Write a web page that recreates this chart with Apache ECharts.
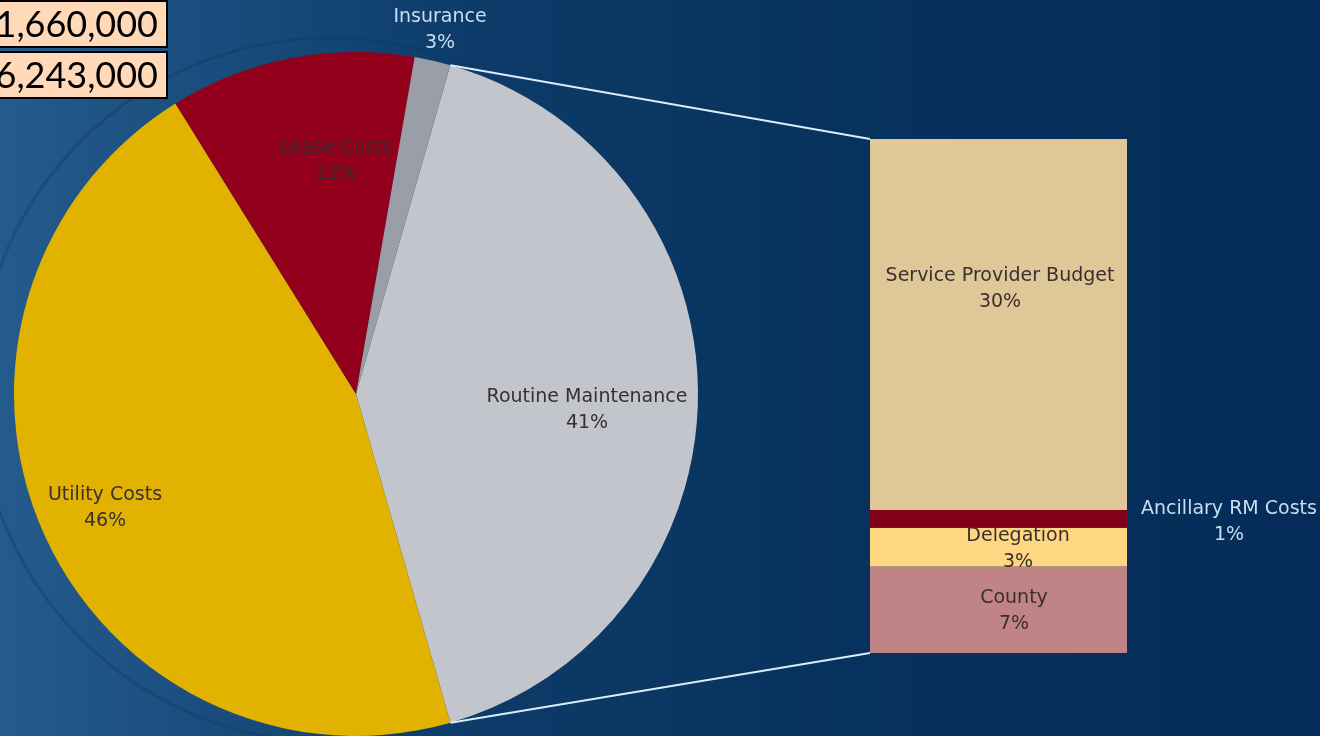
<!DOCTYPE html>
<html>
<head>
<meta charset="utf-8">
<script src="https://cdn.jsdelivr.net/npm/echarts@6/dist/echarts.min.js"></script>
<style>
  html, body { margin: 0; padding: 0; }
  #main { width: 1320px; height: 736px; }
</style>
</head>
<body>
<div id="main"></div>
<script>
// pie slices (clockwise from the Routine Maintenance edge)
var pieNames = ['Routine Maintenance', 'Utility Costs', 'Lease Costs', 'Insurance'];
var pieValues = [41.1, 45.6, 11.6, 1.7];
var pieLabels = ['41%', '46%', '12%', '3%'];

// breakdown of Routine Maintenance (bottom to top)
var barNames = ['County', 'Delegation', 'Ancillary RM Costs', 'Service Provider Budget'];
var barValues = [6.9, 3.1, 1.4, 29.6];
var barLabels = ['7%', '3%', '1%', '30%'];

// totals boxes top-left
var totals = ['1,660,000', '6,243,000'];

var pieColors = ['#c3c5cd', '#e1b300', '#93001c', '#9a9ea6'];
var barColors = ['#c08487', '#ffd782', '#820018', '#e0c797'];
// label centres (layout only)
var pieLabelPos = [[587, 410], [105, 508], [336, 161], [440, 30]];
var barLabelPos = [[1014, 611], [1018, 549], [1229, 522], [1000, 289]];

var FONT = 'DejaVu Sans';
var FS = 19;
var PIE_CENTER = [356, 394];
var PIE_R = 342;
var START = 74;
var GRID = { left: 870, top: 139, width: 257, height: 514 };

var chart = echarts.init(document.getElementById('main'));

var barTotal = barValues.reduce(function (a, b) { return a + b; }, 0);

var barSeries = barNames.map(function (name, i) {
  return {
    name: name,
    type: 'bar',
    stack: 'rm',
    barWidth: '100%',
    silent: true,
    itemStyle: { color: barColors[i] },
    label: {
      show: true,
      formatter: name + '\n' + barLabels[i],
      fontFamily: FONT,
      fontSize: FS,
      lineHeight: 26,
      color: i === 2 ? '#c9def0' : '#3a2f30',
    },
    labelLayout: function () {
      return { x: barLabelPos[i][0], y: barLabelPos[i][1], align: 'center', verticalAlign: 'middle' };
    },
    data: [barValues[i]],
  };
});

var option = {
  animation: false,
  backgroundColor: new echarts.graphic.LinearGradient(0, 0, 1, 0, [
    { offset: 0, color: '#245b8d' },
    { offset: 0.35, color: '#0d3c6a' },
    { offset: 0.6, color: '#08335e' },
    { offset: 1, color: '#052c58' }
  ]),
  grid: GRID,
  xAxis: { type: 'category', data: ['rm'], show: false },
  yAxis: { type: 'value', min: 0, max: barTotal, show: false },
  series: [{
    type: 'pie',
    center: PIE_CENTER,
    radius: PIE_R,
    startAngle: START,
    clockwise: true,
    silent: true,
    label: {
      show: true,
      position: 'inside',
      fontFamily: FONT,
      fontSize: FS,
      lineHeight: 26,
      formatter: function (p) { return p.name + '\n' + pieLabels[p.dataIndex]; },
    },
    labelLine: { show: false },
    labelLayout: function (p) {
      var pos = pieLabelPos[p.dataIndex];
      return { x: pos[0], y: pos[1], align: 'center', verticalAlign: 'middle' };
    },
    data: pieNames.map(function (n, i) {
      return {
        name: n,
        value: pieValues[i],
        itemStyle: { color: pieColors[i] },
        label: { color: i === 3 ? '#c9def0' : '#3a2f30' }
      };
    })
  }].concat(barSeries),
  graphic: {
    elements: [
      // faint seal ring behind the pie
      { id: 'seal1', type: 'circle', z: -10, shape: { cx: 330, cy: 390, r: 352 }, style: { fill: null, stroke: 'rgba(15,55,100,0.35)', lineWidth: 3 } },
      { id: 'box1', type: 'rect', z: 20, shape: { x: -10, y: 1, width: 177, height: 46 }, style: { fill: '#ffd9b8', stroke: '#000', lineWidth: 2 } },
      { id: 'box2', type: 'rect', z: 20, shape: { x: -10, y: 52, width: 177, height: 46 }, style: { fill: '#ffd9b8', stroke: '#000', lineWidth: 2 } },
      { id: 'tot1', type: 'text', z: 21, style: { x: 158, y: 25, text: totals[0], align: 'right', verticalAlign: 'middle', fontFamily: 'Lato', fontSize: 36, fill: '#000' } },
      { id: 'tot2', type: 'text', z: 21, style: { x: 158, y: 76, text: totals[1], align: 'right', verticalAlign: 'middle', fontFamily: 'Lato', fontSize: 36, fill: '#000' } }
    ]
  }
};

chart.setOption(option);

// connector lines from the Routine Maintenance slice edges to the bar corners
var pieTotal = pieValues.reduce(function (a, b) { return a + b; }, 0);
var a0 = START * Math.PI / 180;
var a1 = (START - pieValues[0] / pieTotal * 360) * Math.PI / 180;
var p0 = [PIE_CENTER[0] + PIE_R * Math.cos(a0), PIE_CENTER[1] - PIE_R * Math.sin(a0)];
var p1 = [PIE_CENTER[0] + PIE_R * Math.cos(a1), PIE_CENTER[1] - PIE_R * Math.sin(a1)];
var topPt = chart.convertToPixel({ xAxisIndex: 0, yAxisIndex: 0 }, [0, barTotal]);
var botPt = chart.convertToPixel({ xAxisIndex: 0, yAxisIndex: 0 }, [0, 0]);
var barLeft = topPt[0] - GRID.width / 2;

chart.setOption({
  graphic: {
    elements: [
      { id: 'lnTop', type: 'line', z: 5, shape: { x1: p0[0], y1: p0[1], x2: barLeft, y2: topPt[1] }, style: { stroke: '#dcecf8', lineWidth: 2 } },
      { id: 'lnBot', type: 'line', z: 5, shape: { x1: p1[0], y1: p1[1], x2: barLeft, y2: botPt[1] }, style: { stroke: '#dcecf8', lineWidth: 2 } }
    ]
  }
});
</script>
</body>
</html>
